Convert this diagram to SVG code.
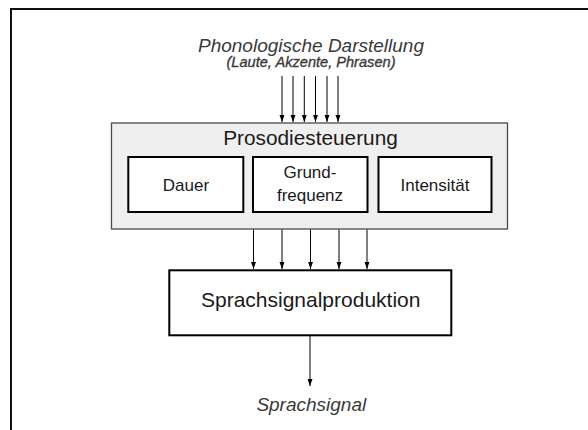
<svg xmlns="http://www.w3.org/2000/svg" width="588" height="430" viewBox="0 0 588 430">
  <style>
    text { font-family: "Liberation Sans", Arial, sans-serif; text-anchor: middle; fill: #1a1a1a; }
    .it { font-style: italic; fill: #3a3a3a; }
    .box { fill: #ffffff; stroke: #000000; stroke-width: 2; }
    .group { fill: #efefef; stroke: #4a4a4a; stroke-width: 1.3; }
    .conn line { stroke: #000000; stroke-width: 1; marker-end: url(#arrow); }
  </style>
  <defs>
    <marker id="arrow" markerWidth="7" markerHeight="10" refX="10" refY="3.5" orient="auto" markerUnits="userSpaceOnUse" viewBox="0 0 10 7">
      <path d="M0,0 L10,3.5 L0,7 Z" fill="#000000"/>
    </marker>
  </defs>

  <!-- page frame -->
  <path d="M11,430 V9 H588" fill="none" stroke="#111111" stroke-width="2"/>

  <!-- input label -->
  <g id="input">
    <text class="it" x="311" y="51.5" font-size="19">Phonologische Darstellung</text>
    <text class="it" x="311" y="66.8" font-size="14.6" style="stroke:#3a3a3a;stroke-width:0.35">(Laute, Akzente, Phrasen)</text>
  </g>

  <!-- prosody control block with its three parameters -->
  <g id="prosodiesteuerung">
    <rect class="group" x="111.5" y="123" width="396" height="106"/>
    <text x="310.5" y="144.5" font-size="20.8">Prosodiesteuerung</text>
  </g>
  <g id="dauer">
    <rect class="box" x="128.3" y="157" width="115" height="55"/>
    <text x="186" y="191" font-size="17">Dauer</text>
  </g>
  <g id="grundfrequenz">
    <rect class="box" x="253" y="157" width="114.5" height="55"/>
    <text x="310" y="178.3" font-size="17">Grund-</text>
    <text x="310" y="200.7" font-size="17">frequenz</text>
  </g>
  <g id="intensitaet">
    <rect class="box" x="378.5" y="157" width="113" height="55"/>
    <text x="435" y="191" font-size="17">Intensität</text>
  </g>

  <!-- speech signal production -->
  <g id="sprachsignalproduktion">
    <rect class="box" x="169.3" y="270.3" width="282" height="65"/>
    <text x="310.7" y="306.7" font-size="21">Sprachsignalproduktion</text>
  </g>

  <!-- output label -->
  <g id="output">
    <text class="it" x="311.3" y="411" font-size="19">Sprachsignal</text>
  </g>

  <!-- connectors -->
  <g id="connectors" class="conn">
    <line x1="282" y1="76" x2="282" y2="122"/>
    <line x1="293" y1="76" x2="293" y2="122"/>
    <line x1="304.3" y1="76" x2="304.3" y2="122"/>
    <line x1="315.5" y1="76" x2="315.5" y2="122"/>
    <line x1="327" y1="76" x2="327" y2="122"/>
    <line x1="338" y1="76" x2="338" y2="122"/>

    <line x1="253.5" y1="229.5" x2="253.5" y2="269"/>
    <line x1="282" y1="229.5" x2="282" y2="269"/>
    <line x1="310.5" y1="229.5" x2="310.5" y2="269"/>
    <line x1="339" y1="229.5" x2="339" y2="269"/>
    <line x1="367" y1="229.5" x2="367" y2="269"/>

    <line x1="310" y1="336" x2="310" y2="386"/>
  </g>
</svg>
